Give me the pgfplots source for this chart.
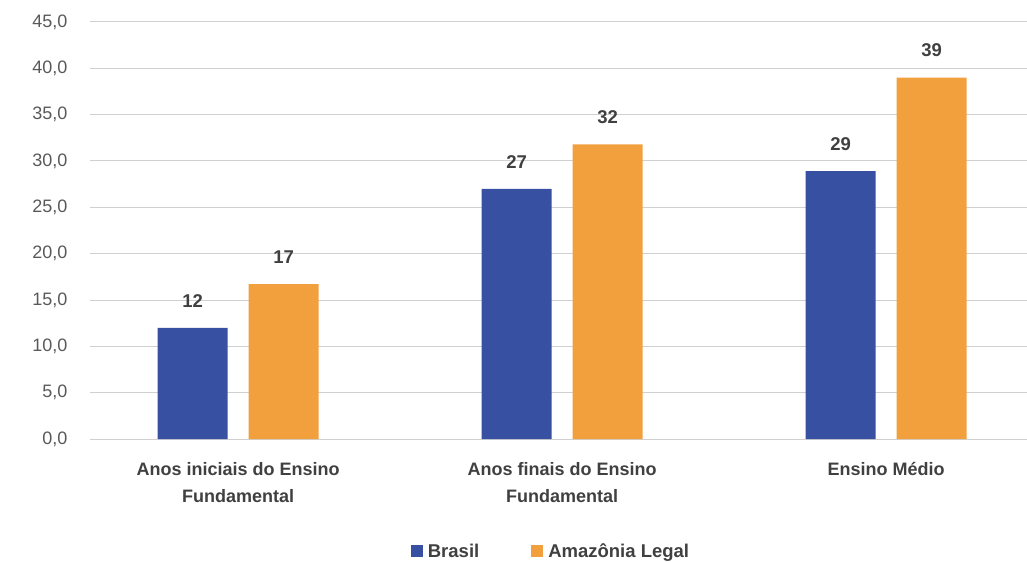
\documentclass[border=0pt]{standalone}
\usepackage{fontspec}
\setmainfont{Liberation Sans}
\usepackage{pgfplots}
\pgfplotsset{compat=1.18}
\definecolor{cblue}{HTML}{3750A2}
\definecolor{corange}{HTML}{F2A03D}
\definecolor{tgray}{HTML}{595959}
\definecolor{lgray}{HTML}{404040}
\definecolor{grid}{HTML}{D0D0D0}
\begin{document}
\begin{tikzpicture}
\begin{axis}[
  scale only axis,
  width=937pt, height=417pt,
  xmin=-0.457, xmax=2.435,
  ymin=0, ymax=45,
  ytick={0,5,...,45},
  xtick={0,1,2},
  xticklabels={{Anos iniciais do Ensino\\Fundamental},{Anos finais do Ensino\\Fundamental},{Ensino Médio}},
  axis line style={draw=none},
  major tick length=0pt,
  xmajorgrids=false,
  ymajorgrids=true,
  y grid style={grid, line width=1pt},
  ybar,
  bar width=70pt,
  /pgf/number format/assume math mode=true,
  yticklabel={\pgfmathprintnumber[fixed,fixed zerofill,precision=1,use comma]{\tick}},
  yticklabel style={font=\fontsize{18}{21}\selectfont, text=tgray, xshift=-19pt},
  xticklabel style={align=center, font=\fontsize{18}{27}\selectfont\bfseries, text=lgray, yshift=-20pt},
  nodes near coords={\pgfmathprintnumber[fixed,precision=0]{\pgfplotspointmeta}},
  every node near coord/.append style={font=\fontsize{18.5}{21}\selectfont\bfseries, text=lgray, yshift=17pt},
  legend style={at={(0.492,-0.269)}, anchor=center, draw=none, legend columns=2,
    font=\fontsize{18.5}{21}\selectfont\bfseries, text=lgray,
    /tikz/every even column/.append style={column sep=50pt}},
  legend image code/.code={\fill[#1] (0pt,-6pt) rectangle (12pt,6pt);},
  clip=false,
]
\addplot[fill=cblue, draw=none, bar shift=-45.5pt] coordinates {(0,12.0) (1,27.0) (2,28.9)};
\addplot[fill=corange, draw=none, bar shift=45.5pt] coordinates {(0,16.7) (1,31.8) (2,39.0)};
\legend{\hspace{3pt}Brasil, \hspace{3pt}Amazônia Legal}
\end{axis}
\pgfresetboundingbox
\path[use as bounding box] (-90pt,-123pt) rectangle (937pt,439pt);
\end{tikzpicture}
\end{document}
